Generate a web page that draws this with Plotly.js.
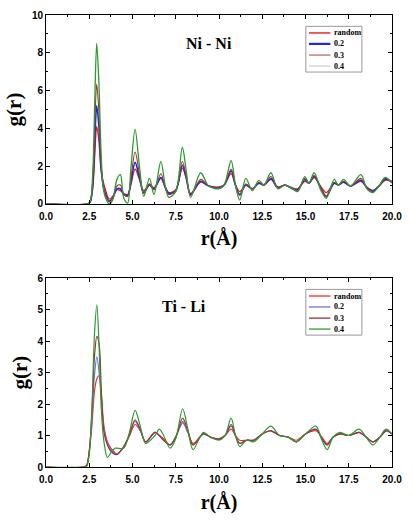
<!DOCTYPE html>
<html>
<head>
<meta charset="utf-8">
<script src="https://cdn.plot.ly/plotly-3.0.1.min.js"></script>
<style>html,body{margin:0;padding:0;background:#fff;}#chart{width:413px;height:521px;}</style>
</head>
<body>
<div id="chart"></div>
<script>
// ---- Ni - Ni partial g(r) ----
var rNi = [0, 2.4, 2.55, 2.7, 2.82, 2.93, 3.05, 3.18, 3.3, 3.45, 3.65, 3.85, 4.1, 4.3, 4.5, 4.72, 4.9, 5.15, 5.4, 5.65, 5.98, 6.24, 6.64, 6.9, 7.1, 7.5, 7.88, 8.1, 8.36, 8.94, 9.4, 10.0, 10.3, 10.7, 10.95, 11.2, 11.55, 11.93, 12.3, 12.6, 13.0, 13.4, 13.8, 14.25, 14.55, 14.96, 15.2, 15.5, 15.9, 16.2, 16.66, 16.9, 17.2, 17.6, 18.2, 18.55, 18.9, 19.25, 19.6, 20.0];
var niRandom = [0,0,0.1,0.8,2.6,4.1,3.4,1.8,1.2,0.7,0.25,0.4,0.75,0.7,0.55,0.5,1.0,1.85,1.3,0.7,1.05,0.85,1.35,0.9,0.6,0.75,1.9,1.4,0.55,1.15,0.95,0.9,1.0,1.6,1.0,0.65,1.0,0.8,1.1,1.0,1.3,0.9,1.0,0.85,0.8,1.2,1.1,1.4,0.9,0.6,1.1,1.0,1.15,0.95,1.2,0.9,0.7,0.95,1.25,1.2];
var ni02 = [0,0,0.1,1.0,3.4,5.2,4.2,2.0,1.0,0.5,0.15,0.3,0.8,0.8,0.5,0.45,1.1,2.2,1.4,0.6,1.0,0.8,1.4,0.85,0.55,0.7,2.05,1.4,0.5,1.2,0.95,0.85,1.0,1.75,1.0,0.5,1.0,0.8,1.1,1.0,1.35,0.85,1.0,0.8,0.75,1.3,1.1,1.45,0.8,0.4,1.1,1.0,1.15,0.95,1.25,0.85,0.7,0.95,1.3,1.15];
var ni03 = [0,0,0.1,1.2,4.2,6.35,5.0,2.2,1.0,0.45,0.1,0.3,0.95,1.0,0.5,0.4,1.3,2.75,1.6,0.55,1.05,0.75,1.6,0.85,0.5,0.7,2.25,1.5,0.45,1.3,0.95,0.85,1.0,1.85,1.0,0.45,1.05,0.8,1.15,1.0,1.45,0.85,1.0,0.8,0.7,1.35,1.1,1.5,0.8,0.4,1.15,1.0,1.2,0.95,1.35,0.85,0.65,0.95,1.35,1.15];
var ni04 = [0,0,0.1,1.6,5.5,8.5,6.6,2.8,0.9,0.3,0.0,0.2,1.3,1.55,0.3,0.05,1.8,3.95,2.0,0.4,1.35,0.5,2.25,0.9,0.35,0.65,3.0,1.8,0.35,1.65,0.95,0.8,1.0,2.3,1.0,0.2,1.35,0.7,1.25,1.0,1.65,0.8,1.0,0.8,0.65,1.45,1.1,1.65,0.7,0.3,1.3,1.0,1.3,0.95,1.55,0.8,0.6,0.95,1.4,1.1];

// ---- Ti - Li partial g(r) ----
var rTi = [0, 2.2, 2.35, 2.5, 2.65, 2.8, 2.94, 3.07, 3.2, 3.35, 3.55, 3.75, 4.0, 4.1, 4.5, 4.8, 5.15, 5.45, 5.76, 6.3, 6.55, 6.8, 7.17, 7.5, 7.9, 8.2, 8.5, 9.1, 9.5, 10.0, 10.35, 10.7, 10.95, 11.2, 11.6, 12.0, 12.5, 13.0, 13.5, 14.0, 14.47, 15.0, 15.6, 15.95, 16.25, 16.6, 17.0, 17.5, 18.1, 18.5, 18.9, 19.3, 19.65, 20.0];
var tiRandom = [0,0,0.05,0.5,1.3,2.4,2.8,2.9,2.3,1.3,0.8,0.6,0.45,0.4,0.65,0.95,1.35,1.15,0.8,1.1,1.0,0.9,0.7,0.95,1.4,1.1,0.75,1.05,0.95,0.9,1.0,1.2,1.0,0.85,0.85,0.85,1.05,1.15,1.0,0.95,0.85,1.05,1.15,0.95,0.75,0.95,1.05,1.0,1.1,0.95,0.8,0.95,1.15,1.05];
var ti02 = [0,0,0.05,0.5,1.5,2.9,3.5,3.0,2.2,1.2,0.75,0.55,0.42,0.4,0.65,1.0,1.45,1.15,0.8,1.1,1.0,0.85,0.7,0.95,1.45,1.1,0.7,1.05,0.95,0.88,1.0,1.3,1.0,0.75,0.85,0.85,1.05,1.15,1.0,0.95,0.8,1.05,1.2,0.9,0.7,0.95,1.05,1.0,1.1,0.95,0.8,0.95,1.15,1.05];
var ti03 = [0,0,0.05,0.5,1.7,3.5,4.15,3.9,2.4,1.1,0.7,0.5,0.4,0.4,0.65,1.0,1.5,1.2,0.8,1.1,1.0,0.85,0.7,0.95,1.55,1.15,0.7,1.05,0.95,0.88,1.0,1.35,1.0,0.75,0.85,0.85,1.05,1.15,1.0,0.95,0.8,1.05,1.2,0.9,0.7,0.95,1.05,1.0,1.1,0.95,0.8,0.95,1.15,1.05];
var ti04 = [0,0,0.02,0.4,1.8,4.2,5.15,3.8,1.8,0.8,0.3,0.45,0.6,0.6,0.6,1.05,1.8,1.3,0.75,1.0,1.2,1.0,0.6,0.9,1.85,1.2,0.55,1.1,0.95,0.85,1.0,1.55,1.0,0.65,0.85,0.8,1.05,1.3,1.0,0.95,0.8,1.05,1.3,0.85,0.55,0.95,1.1,1.0,1.2,0.95,0.7,0.95,1.2,1.05];

var seriesNames = ['random', '0.2', '0.3', '0.4'];
var xTickVals = [0, 2.5, 5, 7.5, 10, 12.5, 15, 17.5, 20];
var xTickText = ['0.0','2.5','5.0','7.5','10.0','12.5','15.0','17.5','20.0'];
var panelTitles = ['Ni - Ni', 'Ti - Li'];

var topColors = ['#e61e1e', '#1e28e6', '#a03030', '#2e9a2e'];
var topLegendColors = ['#e61e1e', '#1e28e6', '#a84040', '#c8cec8'];
var topLegendWidths = [1.4, 2.2, 1.0, 1.2];
var botColors = ['#f03030', '#7070e8', '#9a3030', '#2e9a2e'];
var topWidths = [1.3, 1.6, 1.1, 1.3];

var traces = [];
[niRandom, ni02, ni03, ni04].forEach(function(y, i) {
  traces.push({x: rNi, y: y, type: 'scatter', mode: 'lines', name: seriesNames[i],
    line: {color: topColors[i], width: topWidths[i], shape: 'spline', smoothing: 0.9},
    xaxis: 'x', yaxis: 'y', showlegend: false});
});
[tiRandom, ti02, ti03, ti04].forEach(function(y, i) {
  traces.push({x: rTi, y: y, type: 'scatter', mode: 'lines', name: seriesNames[i],
    line: {color: botColors[i], width: 1.2, shape: 'spline', smoothing: 0.9},
    xaxis: 'x2', yaxis: 'y2', showlegend: false});
});

var tickFont = {family: 'Liberation Sans, Arial, sans-serif', size: 10, color: '#000', weight: 'bold'};
var serif = 'Liberation Serif, Times New Roman, serif';

function xAx(anchor) {
  return {anchor: anchor, domain: [0, 1], range: [0, 20], tickvals: xTickVals, ticktext: xTickText,
    ticks: 'inside', ticklen: 4, tickwidth: 1, tickcolor: '#000', ticklabelstandoff: 3,
    minor: {ticks: 'inside', ticklen: 2, dtick: 1.25, tickcolor: '#000'},
    showline: true, linecolor: '#000', linewidth: 1, mirror: 'allticks',
    showgrid: false, zeroline: false, tickfont: tickFont,
    title: {text: 'r(Å)', font: {family: serif, size: 20, color: '#000', weight: 'bold'}, standoff: 10}};
}
function yAx(anchor, domain, range, dtick) {
  return {anchor: anchor, domain: domain, range: range, dtick: dtick, tick0: 0,
    ticks: 'inside', ticklen: 4, tickwidth: 1, tickcolor: '#000',
    minor: {ticks: 'inside', ticklen: 2, dtick: dtick / 2, tickcolor: '#000'},
    showline: true, linecolor: '#000', linewidth: 1, mirror: 'allticks',
    showgrid: false, zeroline: false, tickfont: tickFont,
    title: {text: 'g(r)', font: {family: serif, size: 21, color: '#000', weight: 'bold'}, standoff: 4}};
}

// custom compact legends (box + line samples + text), positioned in subplot-domain fractions
var shapes = [], annotations = [];
var itemY = [0.905, 0.847, 0.788, 0.730];
function addLegend(sfx, colors, widths) {
  var xr = 'x' + sfx + ' domain', yr = 'y' + sfx + ' domain';
  shapes.push({type: 'rect', xref: xr, yref: yr, x0: 0.751, x1: 0.913, y0: 0.698, y1: 0.940,
    line: {color: '#999', width: 1}, fillcolor: 'rgba(255,255,255,0)'});
  seriesNames.forEach(function(nm, i) {
    shapes.push({type: 'line', xref: xr, yref: yr, x0: 0.760, x1: 0.822, y0: itemY[i], y1: itemY[i],
      line: {color: colors[i], width: widths[i]}});
    annotations.push({text: nm, xref: xr, yref: yr, x: 0.826, y: itemY[i], xanchor: 'left', yanchor: 'middle',
      showarrow: false, font: {family: serif, size: 8, color: '#000', weight: 'bold'}});
  });
}
addLegend('', topLegendColors, topLegendWidths);
addLegend('2', botColors, [1.3, 1.3, 1.3, 1.3]);

annotations.push({text: panelTitles[0], xref: 'x', yref: 'y', x: 9.4, y: 8.5, showarrow: false,
  font: {family: serif, size: 16, color: '#000', weight: 'bold'}});
annotations.push({text: panelTitles[1], xref: 'x2', yref: 'y2', x: 8.0, y: 5.1, showarrow: false,
  font: {family: serif, size: 16, color: '#000', weight: 'bold'}});

var layout = {
  width: 413, height: 521,
  margin: {l: 46, r: 21, t: 15, b: 54},
  paper_bgcolor: '#fff', plot_bgcolor: '#fff',
  showlegend: false,
  xaxis: xAx('y'),
  yaxis: yAx('x', [0.582, 1.0], [0, 10], 2),
  xaxis2: xAx('y2'),
  yaxis2: yAx('x2', [0, 0.418], [0, 6], 1),
  shapes: shapes,
  annotations: annotations
};

Plotly.newPlot('chart', traces, layout, {displayModeBar: false, staticPlot: true});
</script>
</body>
</html>
